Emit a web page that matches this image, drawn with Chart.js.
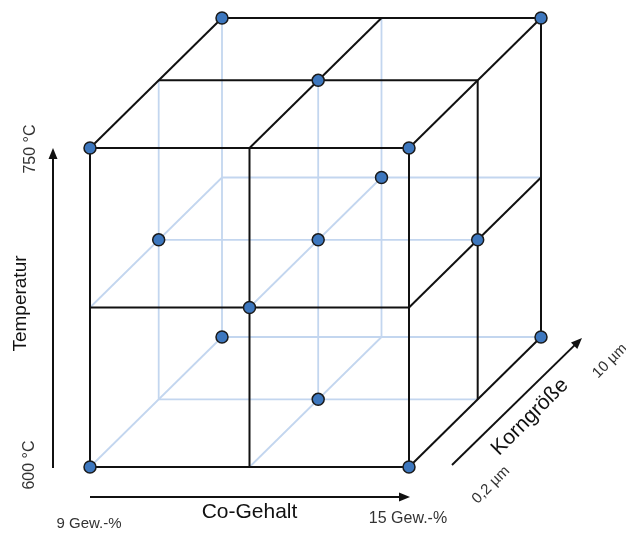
<!DOCTYPE html>
<html>
<head>
<meta charset="utf-8">
<script src="https://cdn.jsdelivr.net/npm/chart.js@4"></script>
<style>
    body { margin: 0; background: #fff; }
    #box { width: 626px; height: 534px; position: relative; }
</style>
</head>
<body>
<div id="box"><canvas id="wuerfel"></canvas></div>
<script>
// Versuchsplan: Stufen der drei Faktoren
const coStufen = [9, 12, 15];            // Co-Gehalt in Gew.-%
const tempStufen = [600, 675, 750];      // Temperatur in °C
const kornStufen = [0.2, 5.3, 10];       // Korngröße in µm

// Versuchspunkte (8 Ecken, 6 Flächenmitten, 1 Zentrum)
const coGehalt    = [9, 15, 9, 15, 9, 15, 9, 15, 12, 12, 9, 15, 12, 12, 12];
const temperatur  = [600, 600, 750, 750, 600, 600, 750, 750, 675, 675, 675, 675, 600, 750, 675];
const korngroesse = [0.2, 0.2, 0.2, 0.2, 10, 10, 10, 10, 0.2, 10, 5.3, 5.3, 5.3, 5.3, 5.3];

// Beschriftungen
const achsenTitel = ['Co-Gehalt', 'Temperatur', 'Korngröße'];
const coLabels = ['9 Gew.-%', '15 Gew.-%'];
const tempLabels = ['600 °C', '750 °C'];
const kornLabels = ['0,2 µm', '10 µm'];

// Layout (Pixel der Vorderfläche und Tiefenversatz)
const vorne = { links: 90, rechts: 409, unten: 467, oben: 148 };
const tiefe = { dx: 132, dy: -130 };
const canvasW = 626, canvasH = 534;

const pxProCo = (vorne.rechts - vorne.links) / (coStufen[2] - coStufen[0]);
const pxProTemp = (vorne.unten - vorne.oben) / (tempStufen[2] - tempStufen[0]);
const xMin = coStufen[0] - vorne.links / pxProCo;
const xMax = xMin + canvasW / pxProCo;
const yMax = tempStufen[2] + vorne.oben / pxProTemp;
const yMin = tempStufen[0] - (canvasH - vorne.unten) / pxProTemp;

// schräge Projektion: Korngröße verschiebt nach rechts oben
function projiziere(co, temp, korn) {
    const f = (korn - kornStufen[0]) / (kornStufen[2] - kornStufen[0]);
    return {
        x: co + f * tiefe.dx / pxProCo,
        y: temp - f * tiefe.dy / pxProTemp
    };
}

const datasets = [];

// Gitterlinien: sichtbar wenn auf Vorder-, Ober- oder rechter Seitenfläche
function linie(a, b, sichtbar) {
    datasets.push({
        data: [projiziere(a[0], a[1], a[2]), projiziere(b[0], b[1], b[2])],
        showLine: true,
        borderColor: sichtbar ? '#111111' : '#c3d6ef',
        borderWidth: sichtbar ? 2 : 1.8,
        pointRadius: 0,
        order: sichtbar ? 1 : 2
    });
}

const coMax = coStufen[2], tempMax = tempStufen[2], kornMin = kornStufen[0];
tempStufen.forEach(t => kornStufen.forEach(k => {
    linie([coStufen[0], t, k], [coStufen[2], t, k], k === kornMin || t === tempMax);
}));
coStufen.forEach(c => kornStufen.forEach(k => {
    linie([c, tempStufen[0], k], [c, tempStufen[2], k], k === kornMin || c === coMax);
}));
coStufen.forEach(c => tempStufen.forEach(t => {
    linie([c, t, kornStufen[0]], [c, t, kornStufen[2]], t === tempMax || c === coMax);
}));

// Versuchspunkte
datasets.push({
    data: coGehalt.map((c, i) => projiziere(c, temperatur[i], korngroesse[i])),
    showLine: false,
    pointRadius: 6,
    pointBackgroundColor: '#3d77be',
    pointBorderColor: '#1a1a1a',
    pointBorderWidth: 1.5,
    order: 0
});

function pfeil(ctx, x1, y1, x2, y2) {
    const w = Math.atan2(y2 - y1, x2 - x1);
    const len = 11, br = 4.5;
    ctx.save();
    ctx.strokeStyle = '#111';
    ctx.fillStyle = '#111';
    ctx.lineWidth = 2;
    ctx.beginPath();
    ctx.moveTo(x1, y1);
    ctx.lineTo(x2 - Math.cos(w) * len * 0.8, y2 - Math.sin(w) * len * 0.8);
    ctx.stroke();
    ctx.beginPath();
    ctx.moveTo(x2, y2);
    ctx.lineTo(x2 - Math.cos(w) * len - Math.sin(w) * br, y2 - Math.sin(w) * len + Math.cos(w) * br);
    ctx.lineTo(x2 - Math.cos(w) * len + Math.sin(w) * br, y2 - Math.sin(w) * len - Math.cos(w) * br);
    ctx.closePath();
    ctx.fill();
    ctx.restore();
}

function text(ctx, s, x, y, winkel, font, farbe) {
    ctx.save();
    ctx.translate(x, y);
    ctx.rotate(winkel);
    ctx.font = font;
    ctx.fillStyle = farbe;
    ctx.textAlign = 'center';
    ctx.textBaseline = 'middle';
    ctx.fillText(s, 0, 0);
    ctx.restore();
}

const schrift = '"Liberation Sans", Arial, sans-serif';

// Pfeile und Achsentexte
const achsenPlugin = {
    id: 'achsen',
    afterDraw(chart) {
        const ctx = chart.ctx;
        const sx = chart.scales.x, sy = chart.scales.y;
        const p = (c, t, k) => {
            const q = projiziere(c, t, k);
            return { x: sx.getPixelForValue(q.x), y: sy.getPixelForValue(q.y) };
        };
        const lu = p(coStufen[0], tempStufen[0], kornStufen[0]);
        const lo = p(coStufen[0], tempStufen[2], kornStufen[0]);
        const ru = p(coStufen[2], tempStufen[0], kornStufen[0]);
        const rh = p(coStufen[2], tempStufen[0], kornStufen[2]);

        // Temperatur
        pfeil(ctx, lu.x - 37, lu.y + 1, lu.x - 37, lo.y);
        text(ctx, tempLabels[1], lo.x - 59, lo.y + 1, -Math.PI / 2, '16px ' + schrift, '#333');
        text(ctx, tempLabels[0], lu.x - 60, lu.y - 2, -Math.PI / 2, '16px ' + schrift, '#333');
        text(ctx, achsenTitel[1], lu.x - 69, (lu.y + lo.y) / 2 - 4, -Math.PI / 2, '19px ' + schrift, '#111');

        // Co-Gehalt
        pfeil(ctx, lu.x, lu.y + 30, ru.x + 1, ru.y + 30);
        text(ctx, coLabels[0], lu.x - 1, lu.y + 57, 0, '15px ' + schrift, '#333');
        text(ctx, achsenTitel[0], (lu.x + ru.x) / 2, lu.y + 45, 0, '21px ' + schrift, '#111');
        text(ctx, coLabels[1], ru.x - 1, ru.y + 52, 0, '16px ' + schrift, '#333');

        // Korngröße
        pfeil(ctx, ru.x + 43, ru.y - 2, rh.x + 41, rh.y + 1);
        text(ctx, achsenTitel[2], 530, 417, -Math.PI / 4, '21px ' + schrift, '#111');
        text(ctx, kornLabels[0], 491, 485, -Math.PI / 4, '15px ' + schrift, '#333');
        text(ctx, kornLabels[1], 610, 361, -Math.PI / 4, '15px ' + schrift, '#333');
    }
};

new Chart(document.getElementById('wuerfel'), {
    type: 'scatter',
    data: { datasets: datasets },
    options: {
        responsive: true,
        maintainAspectRatio: false,
        animation: false,
        layout: { padding: 0, autoPadding: false },
        plugins: { legend: { display: false }, tooltip: { enabled: false } },
        scales: {
            x: { type: 'linear', display: false, min: xMin, max: xMax },
            y: { type: 'linear', display: false, min: yMin, max: yMax }
        }
    },
    plugins: [achsenPlugin]
});
</script>
</body>
</html>
